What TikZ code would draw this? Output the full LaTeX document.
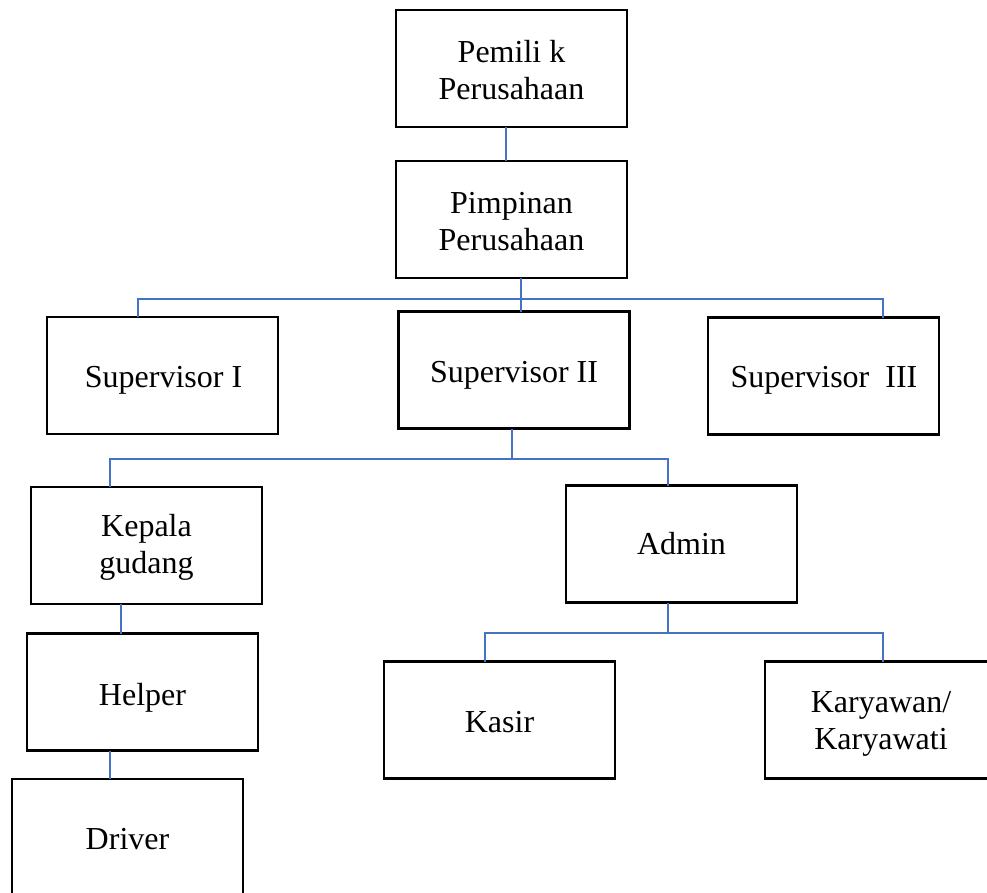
\documentclass[tikz,border=0pt]{standalone}
\usepackage{fontspec}
\setmainfont{Liberation Serif}
\definecolor{linkblue}{RGB}{68,114,196}
\tikzset{
  box/.style={draw=black, line width=2.5pt, fill=white, minimum width=231pt, minimum height=117pt, inner sep=0pt, outer sep=0pt},
  conn/.style={draw=linkblue, line width=1.2pt},
  lbl/.style={anchor=base, align=center, inner sep=0pt, font=\fontsize{32}{37}\selectfont}
}
\begin{document}
\begin{tikzpicture}[x=1pt, y=-1pt]
\useasboundingbox (0,0) rectangle (987,892);
% boxes
\node[box] (pem) at (511.5,68.5) {};
\node[box] (pim) at (511.5,219.5) {};
\node[box] (sup1) at (162.5,375.5) {};
\node[box] (sup2) at (514,370) {};
\node[box] (sup3) at (823.5,376) {};
\node[box] (kep) at (146.5,545.5) {};
\node[box] (adm) at (681.5,544) {};
\node[box] (hel) at (142.5,692) {};
\node[box] (kas) at (499.5,720) {};
\node[box] (kar) at (880.5,720) {};
\node[box] (drv) at (127.5,837.5) {};
% junction coordinates
\coordinate (xa) at (506,0);
\coordinate (xb) at (521,0);
\coordinate (b1l) at (138,299);
\coordinate (b1r) at (883,299);
\coordinate (b2m) at (512,459);
\coordinate (b2l) at (110,459);
\coordinate (b2r) at (668,459);
\coordinate (b3m) at (668,633);
\coordinate (b3l) at (485,633);
\coordinate (b3r) at (883,633);
\coordinate (xc) at (121,0);
\coordinate (xd) at (110,0);
% connectors
\draw[conn] (pem.south -| xa) -- (pim.north -| xa);
\draw[conn] (pim.south -| xb) -- (sup2.north -| xb);
\draw[conn] (sup1.north -| b1l) -- (b1l) -- (b1r) -- (sup3.north -| b1r);
\draw[conn] (sup2.south -| b2m) -- (b2m);
\draw[conn] (kep.north -| b2l) -- (b2l) -- (b2r) -- (adm.north -| b2r);
\draw[conn] (adm.south -| b3m) -- (b3m);
\draw[conn] (kas.north -| b3l) -- (b3l) -- (b3r) -- (kar.north -| b3r);
\draw[conn] (kep.south -| xc) -- (hel.north -| xc);
\draw[conn] (hel.south -| xd) -- (drv.north -| xd);
% labels (base anchor = baseline of last line)
\node[lbl] (tpem) at (511.5,99) {Pemili k\\Perusahaan};
\node[lbl] (tpim) at (511.5,250) {Pimpinan\\Perusahaan};
\node[lbl] (tsup1) at (163.5,387) {Supervisor I};
\node[lbl] (tsup2) at (514,382) {Supervisor II};
\node[lbl] (tsup3) at (824,387) {Supervisor\ \ III};
\node[lbl] (tkep) at (146.5,573) {Kepala\\gudang};
\node[lbl] (tadm) at (681.5,554) {Admin};
\node[lbl] (thel) at (142.5,705) {Helper};
\node[lbl] (tkas) at (499.5,732) {Kasir};
\node[lbl] (tkar) at (881,749) {Karyawan/\\Karyawati};
\node[lbl] (tdrv) at (127.5,849) {Driver};
\end{tikzpicture}
\end{document}
